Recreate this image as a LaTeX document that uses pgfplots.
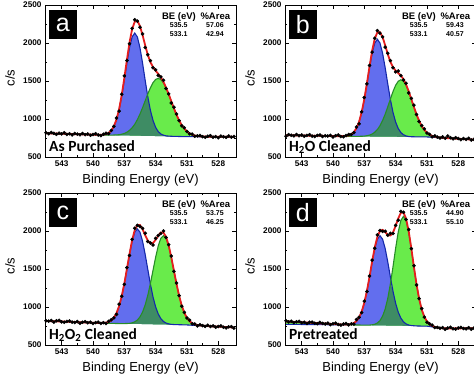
\documentclass[border=0pt]{standalone}
\usepackage{fontspec}
\setmainfont{Liberation Sans}
\newfontfamily\carlito{Carlito}
\usepackage{pgfplots}
\pgfplotsset{compat=1.18}
\usepackage{pgfplotstable}
\usepgfplotslibrary{fillbetween}

\definecolor{bfill}{RGB}{98,110,238}
\definecolor{gfill}{RGB}{105,235,75}
\definecolor{ofill}{RGB}{62,140,100}
\definecolor{bline}{RGB}{20,40,170}
\definecolor{gline}{RGB}{40,140,40}
\definecolor{envred}{RGB}{230,30,30}

% O 1s spectra: E = binding energy, bg = background, b / g = the two fitted
% components above background, dev = measured counts minus fit envelope
\pgfplotstableread{
E bg b g dev
544.5 812 0 0 8
544.25 811 0 0 -5
544 810 0 0 12
543.75 809 0 0 3
543.5 808 0 0 -10
543.25 807 0 0 6
543 806 0 0 -2
542.75 805 0 0 14
542.5 804 0 0 -7
542.25 803 0 0 4
542 802 0 0 -12
541.75 801 0 0 9
541.5 800 0 0 1
541.25 799 0 0 -6
541 798 0 0 11
540.75 797 0 0 -3
540.5 796 0 0 7
540.25 795 0 0 -9
540 794 0 0 2
539.75 793 0 0 13
539.5 792 1 0 -4
539.25 791 2 0 -11
539 790 5 0 5
538.75 789 13 0 10
538.5 788 28 0 -8
538.25 787 59 1 3
538 787 114 2 -1
537.75 786 204 5 18
537.5 785 336 8 -26
537.25 785 514 15 12
537 784 728 26 30
536.75 783 954 43 -10
536.5 783 1157 68 -18
536.25 782 1299 103 8
536 781 1350 150 24
535.75 781 1299 211 -4
535.5 780 1157 285 -14
535.25 779 954 370 16
535 779 728 461 -28
534.75 778 514 552 2
534.5 777 336 635 20
534.25 777 204 701 -8
534 776 114 745 12
533.75 775 59 760 -20
533.5 775 28 745 6
533.25 774 13 701 22
533 773 5 635 -12
532.75 773 2 552 4
532.5 772 1 461 -24
532.25 771 0 370 14
532 771 0 285 9
531.75 770 0 211 -3
531.5 769 0 150 -8
531.25 769 0 103 13
531 768 0 68 0
530.75 768 0 43 -5
530.5 768 0 26 8
530.25 768 0 15 -11
530 767 0 8 4
529.75 767 0 5 12
529.5 767 0 2 -2
529.25 767 0 1 -9
529 767 0 0 6
528.75 767 0 0 14
528.5 767 0 0 -6
528.25 766 0 0 3
528 766 0 0 -13
527.75 766 0 0 10
527.5 766 0 0 1
527.25 766 0 0 -7
527 766 0 0 11
526.75 765 0 0 -4
526.5 765 0 0 5
}\tabA

\pgfplotstableread{
E bg b g dev
544.5 786 0 0 -12
544.25 786 0 0 9
544 785 0 0 1
543.75 785 0 0 -6
543.5 784 0 0 11
543.25 783 0 0 -3
543 783 0 0 7
542.75 782 0 0 -9
542.5 782 0 0 2
542.25 781 0 0 13
542 780 0 0 -4
541.75 780 0 0 -11
541.5 779 0 0 5
541.25 779 0 0 10
541 778 0 0 -8
540.75 777 0 0 3
540.5 777 0 0 -1
540.25 776 0 0 9
540 776 0 0 -13
539.75 775 0 0 6
539.5 774 0 0 15
539.25 774 1 0 -5
539 773 2 0 -9
538.75 773 5 0 4
538.5 772 12 0 12
538.25 772 27 0 -2
538 771 56 0 -7
537.75 771 108 0 16
537.5 771 193 1 -28
537.25 771 319 2 2
537 770 488 5 20
536.75 770 690 10 -8
536.5 770 905 18 12
536.25 769 1097 33 -20
536 769 1231 57 6
535.75 769 1280 92 22
535.5 768 1231 143 -12
535.25 768 1097 212 4
535 768 905 296 -24
534.75 768 690 393 14
534.5 767 488 496 18
534.25 767 319 595 -6
534 767 193 677 -16
533.75 766 108 731 26
533.5 766 56 750 0
533.25 766 27 731 -10
533 765 12 677 16
532.75 765 5 595 -22
532.5 765 2 496 8
532.25 765 1 393 24
532 765 0 296 -2
531.75 764 0 212 -9
531.5 764 0 143 6
531.25 764 0 92 14
531 764 0 57 -6
530.75 762 0 33 3
530.5 760 0 18 -13
530.25 758 0 10 10
530 756 0 5 1
529.75 754 0 2 -7
529.5 752 0 1 11
529.25 750 0 0 -4
529 748 0 0 28
528.75 746 0 0 8
528.5 744 0 0 -5
528.25 742 0 0 12
528 740 0 0 3
527.75 738 0 0 -10
527.5 736 0 0 6
527.25 734 0 0 -2
527 732 0 0 14
526.75 730 0 0 -7
526.5 728 0 0 4
}\tabB

\pgfplotstableread{
E bg b g dev
544.5 817 0 0 3
544.25 815 0 0 -1
544 814 0 0 9
543.75 813 0 0 -13
543.5 812 0 0 6
543.25 810 0 0 15
543 809 0 0 -5
542.75 808 0 0 -9
542.5 806 0 0 4
542.25 805 0 0 12
542 804 0 0 -2
541.75 802 0 0 -7
541.5 801 0 0 8
541.25 800 0 0 -14
541 798 0 0 1
540.75 797 0 0 10
540.5 796 0 0 -4
540.25 794 0 0 6
540 793 0 0 -10
539.75 792 0 0 3
539.5 790 0 0 11
539.25 789 1 0 -6
539 788 4 0 2
538.75 786 9 0 -12
538.5 785 19 0 7
538.25 784 39 0 9
538 784 76 0 -3
537.75 783 136 0 -16
537.5 782 229 0 26
537.25 782 359 0 0
537 781 526 1 -10
536.75 780 719 3 16
536.5 779 915 6 -22
536.25 779 1089 13 8
536 778 1208 27 24
535.75 777 1250 51 -4
535.5 777 1208 93 -18
535.25 776 1089 158 12
535 775 915 253 28
534.75 775 719 380 -12
534.5 774 526 536 6
534.25 773 359 710 -26
534 772 229 883 20
533.75 772 136 1032 2
533.5 771 76 1134 -14
533.25 770 39 1170 22
533 770 19 1134 -8
532.75 769 9 1032 10
532.5 768 4 883 16
532.25 768 1 710 -10
532 768 0 536 12
531.75 767 0 380 3
531.5 766 0 253 -10
531.25 765 0 158 6
531 764 0 93 -2
530.75 762 0 51 14
530.5 760 0 27 -7
530.25 758 0 13 4
530 757 0 6 -12
529.75 755 0 3 9
529.5 753 0 1 1
529.25 751 0 0 -6
529 749 0 0 11
528.75 747 0 0 -3
528.5 745 0 0 7
528.25 743 0 0 -9
528 742 0 0 2
527.75 740 0 0 13
527.5 738 0 0 -4
527.25 736 0 0 -11
527 734 0 0 5
526.75 732 0 0 10
526.5 730 0 0 -8
}\tabC

\pgfplotstableread{
E bg b g dev
544.5 772 0 38 10
544.25 772 0 36 -4
544 772 0 35 6
543.75 771 0 33 -10
543.5 771 0 32 3
543.25 771 0 30 11
543 770 0 28 -6
542.75 770 0 27 2
542.5 770 0 25 -12
542.25 769 0 24 7
542 769 0 22 9
541.75 769 0 21 -3
541.5 769 0 19 -8
541.25 768 0 17 13
541 768 0 16 0
540.75 768 0 14 -5
540.5 767 0 13 8
540.25 767 0 11 -11
540 767 0 9 4
539.75 767 0 8 12
539.5 766 0 6 -2
539.25 766 0 5 -9
539 766 1 3 6
538.75 765 2 2 14
538.5 765 5 0 -6
538.25 764 11 0 3
538 764 25 0 -13
537.75 763 52 0 20
537.5 763 100 0 2
537.25 762 178 0 -14
537 762 294 0 22
536.75 761 450 1 -8
536.5 760 636 2 10
536.25 760 834 6 16
536 759 1011 14 -10
535.75 759 1135 30 24
535.5 758 1180 63 6
535.25 758 1135 122 -20
535 757 1011 217 12
534.75 756 834 359 -4
534.5 756 636 549 28
534.25 755 450 776 -14
534 755 294 1018 8
533.75 754 178 1234 -24
533.5 754 100 1385 18
533.25 753 52 1440 2
533 753 25 1385 -12
532.75 752 11 1234 22
532.5 751 5 1018 -6
532.25 751 2 776 14
532 750 1 549 -9
531.75 750 0 359 2
531.5 749 0 217 13
531.25 749 0 122 -4
531 748 0 63 -11
530.75 744 0 30 5
530.5 738 0 14 10
530.25 732 0 6 -8
530 726 0 2 3
529.75 722 0 1 -1
529.5 720 0 0 9
529.25 719 0 0 -13
529 718 0 0 6
528.75 718 0 0 15
528.5 718 0 0 -5
528.25 719 0 0 -9
528 719 0 0 4
527.75 719 0 0 12
527.5 720 0 0 -2
527.25 720 0 0 -7
527 720 0 0 8
526.75 721 0 0 -14
526.5 721 0 0 1
}\tabD

\pgfplotsset{
  panel/.style={
    scale only axis, width=191pt, height=152pt,
    x dir=reverse, xmin=526.3, xmax=544.6, ymin=500, ymax=2500,
    xtick={528,531,...,543}, ytick={500,1000,...,2500},
    minor x tick num=1, minor y tick num=1,
    tick align=inside, major tick length=4pt, minor tick length=2pt,
    every tick/.style={black, line width=0.6pt},
    axis line style={line width=0.8pt},
    tick label style={font=\fontsize{8.2}{9}\selectfont\bfseries},
    /pgf/number format/assume math mode=true,
    /pgf/number format/1000 sep={},
    xlabel={Binding Energy (eV)}, ylabel={c/s},
    every axis x label/.style={at={(axis description cs:0.5,0)}, anchor=north,
      yshift=-13.7pt, font=\fontsize{13}{14}\selectfont},
    every axis y label/.style={at={(axis description cs:-0.183,0.52)}, rotate=90,
      anchor=center, font=\fontsize{13}{14}\selectfont},
  }
}

% fitted components, measured points and envelope of one spectrum
\newcommand{\spectrum}[1]{%
  \addplot[draw=none, name path=base] table[x=E, y=bg] {#1};
  \addplot[draw=none, name path=ovl] table[x=E, y expr={\thisrow{bg}+min(\thisrow{b},\thisrow{g})}] {#1};
  \addplot[draw=none, name path=blu] table[x=E, y expr={\thisrow{bg}+\thisrow{b}}] {#1};
  \addplot[draw=none, name path=grn] table[x=E, y expr={\thisrow{bg}+\thisrow{g}}] {#1};
  \addplot[fill=bfill, draw=none] fill between[of=blu and base];
  \addplot[fill=gfill, draw=none] fill between[of=grn and base];
  \addplot[fill=ofill, draw=none] fill between[of=ovl and base];
  \addplot[bline, line width=1.1pt] table[x=E, y expr={\thisrow{bg}+\thisrow{b}}] {#1};
  \addplot[gline, line width=1.1pt] table[x=E, y expr={\thisrow{bg}+\thisrow{g}}] {#1};
  \addplot[only marks, mark=*, mark size=1.6pt, black] table[x=E, y expr={\thisrow{bg}+\thisrow{b}+\thisrow{g}+\thisrow{dev}}] {#1};
  \addplot[envred, line width=1.8pt] table[x=E, y expr={\thisrow{bg}+\thisrow{b}+\thisrow{g}}] {#1};
}

% panel letter, sample name and peak table
\newcommand{\annot}[4]{%
  \node[fill=black, text=white, font=\fontsize{25}{25}\selectfont, anchor=north west,
        minimum width=28.5pt, minimum height=28.5pt, inner sep=0pt,
        xshift=3.3pt, yshift=-5pt] at (axis description cs:0,1) {#1};
  \node[font=\carlito\bfseries\fontsize{15.5}{16}\selectfont, anchor=base west, inner sep=0pt,
        xshift=4pt, yshift=5.3pt] at (axis description cs:0,0) {#2};
  \node[font=\fontsize{9.5}{10}\selectfont\bfseries, anchor=base, inner sep=0pt,
        xshift=-57pt, yshift=-14pt] at (axis description cs:1,1) {BE (eV)};
  \node[font=\fontsize{9.5}{10}\selectfont\bfseries, anchor=base, inner sep=0pt,
        xshift=-20.7pt, yshift=-14pt] at (axis description cs:1,1) {\%Area};
  \node[font=\fontsize{7}{8}\selectfont\bfseries, anchor=base, inner sep=0pt,
        xshift=-57.3pt, yshift=-22pt] at (axis description cs:1,1) {535.5};
  \node[font=\fontsize{7}{8}\selectfont\bfseries, anchor=base, inner sep=0pt,
        xshift=-21pt, yshift=-22pt] at (axis description cs:1,1) {#3};
  \node[font=\fontsize{7}{8}\selectfont\bfseries, anchor=base, inner sep=0pt,
        xshift=-57.3pt, yshift=-31.3pt] at (axis description cs:1,1) {533.1};
  \node[font=\fontsize{7}{8}\selectfont\bfseries, anchor=base, inner sep=0pt,
        xshift=-21pt, yshift=-31.3pt] at (axis description cs:1,1) {#4};
}

\begin{document}
\begin{tikzpicture}

\begin{axis}[panel, at={(45pt,219pt)}, anchor=south west]
  \spectrum{\tabA}
  \annot{a}{As Purchased}{57.06}{42.94}
\end{axis}

\begin{axis}[panel, at={(285pt,219pt)}, anchor=south west]
  \spectrum{\tabB}
  \annot{b}{H\textsubscript{2}O Cleaned}{59.43}{40.57}
\end{axis}

\begin{axis}[panel, at={(45pt,31pt)}, anchor=south west]
  \spectrum{\tabC}
  \annot{c}{H\textsubscript{2}O\textsubscript{2} Cleaned}{53.75}{46.25}
\end{axis}

\begin{axis}[panel, at={(285pt,31pt)}, anchor=south west]
  \spectrum{\tabD}
  \annot{d}{Pretreated}{44.90}{55.10}
\end{axis}

% page frame: the figure is 474 x 376
\pgfresetboundingbox
\path (0pt,0pt) rectangle (474pt,376pt);
\end{tikzpicture}
\end{document}
